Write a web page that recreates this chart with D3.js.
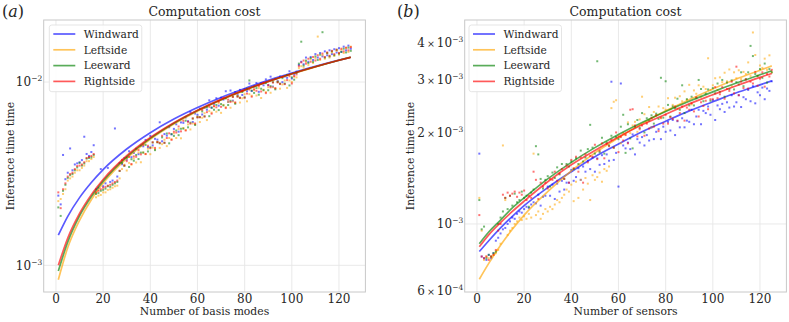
<!DOCTYPE html>
<html><head><meta charset="utf-8">
<script src="https://cdn.jsdelivr.net/npm/d3@7"></script>
<style>body{margin:0;background:#fff}svg{display:block;font-family:"DejaVu Serif",serif}</style>
</head><body><svg id="c" width="789" height="322"></svg>
<script>
// ---------------- DATA (times in milliseconds) ----------------
const seriesNames = ["Windward","Leftside","Leeward","Rightside"];
const seriesColors = ["#0000ff","#ffa500","#008000","#ff0000"];
const xTicks = [0,20,40,60,80,100,120];
const fitX = [1,5,10,15,20,30,40,50,60,70,80,90,100,110,120,125];

// Panel (a): number of basis modes
const aFitWindward  = [1.46,1.85,2.34,2.83,3.33,4.31,5.29,6.28,7.26,8.24,9.22,10.21,11.19,12.17,13.16,13.65];
const aFitLeftside  = [0.835,1.25,1.76,2.28,2.80,3.83,4.87,5.90,6.93,7.97,9.00,10.04,11.07,12.10,13.14,13.65];
const aFitLeeward   = [0.93,1.34,1.86,2.37,2.88,3.91,4.93,5.96,6.99,8.01,9.04,10.06,11.09,12.12,13.14,13.66];
const aFitRightside = [1.00,1.41,1.92,2.43,2.94,3.96,4.98,6.00,7.02,8.04,9.06,10.08,11.10,12.12,13.14,13.65];

const aPtsWindward = [2.40,2.15,4.00,2.95,3.20,4.34,3.30,3.55,3.60,3.65,
 3.75,5.03,4.05,3.95,4.15,4.52,2.60,2.65,3.35,2.70,
 2.80,3.40,2.85,2.90,5.58,3.05,3.61,3.56,3.84,3.77,
 4.19,3.89,4.10,4.32,4.04,4.49,4.46,4.83,4.41,5.08,
 4.51,4.90,4.85,6.03,4.75,5.20,5.10,5.67,5.18,5.55,
 5.88,5.36,6.02,5.99,6.41,6.11,6.85,6.05,6.73,6.62,
 7.16,6.65,7.22,7.06,7.95,7.25,7.60,8.16,7.43,8.21,
 8.02,8.91,7.79,8.99,7.91,8.82,8.53,9.06,8.50,9.14,
 8.92,9.81,8.93,9.45,9.88,8.84,9.84,9.60,10.34,9.60,
 10.7,9.44,10.4,10.14,10.71,9.98,10.71,10.54,11.45,10.46,
 11.0,11.4,12.4,12.9,12.5,13.6,12.9,13.7,13.2,14.2,
 13.6,14.4,13.8,14.7,14.0,14.9,14.2,15.1,14.5,15.3,
 14.6,15.6,14.9,15.8,15.2];
const aPtsLeftside = [2.24,2.30,2.45,2.60,2.90,2.98,3.05,3.20,3.30,3.30,
 3.40,3.50,3.70,3.70,3.80,3.90,2.35,2.40,2.42,2.50,
 2.50,2.58,2.60,2.65,2.70,2.72,2.98,3.35,3.54,3.29,
 3.62,3.54,3.83,3.64,4.12,3.65,4.13,4.04,4.33,4.04,
 4.39,4.29,4.72,4.37,4.58,4.84,4.47,4.95,4.87,5.25,
 4.95,5.54,4.93,5.61,5.47,5.87,5.51,5.94,5.88,6.47,
 6.05,6.38,6.76,6.20,6.94,6.81,7.35,6.89,7.68,6.79,
 7.50,7.30,7.78,7.24,7.83,7.69,8.40,7.73,8.15,8.58,
 7.85,8.59,8.42,9.03,8.44,9.26,8.18,9.08,8.82,9.37,
 8.74,9.37,9.21,10.07,9.20,9.70,10.19,9.29,10.2,10.0,
 10.71,10.6,11.9,12.2,12.0,12.9,12.4,13.3,12.7,13.5,
 17.7,13.2,14.0,13.4,14.3,13.6,14.5,13.9,14.8,14.1,
 15.0,14.4,15.3,14.6,15.6];
const aPtsLeeward = [2.07,1.86,2.55,2.75,3.00,3.10,3.15,3.30,3.42,3.62,
 3.50,3.60,3.82,3.85,3.88,4.00,2.45,2.48,2.55,2.58,
 2.62,2.70,2.68,2.75,2.80,2.85,3.27,3.62,3.49,3.87,
 3.44,3.79,3.72,4.00,3.80,4.12,4.12,4.54,4.18,4.40,
 4.68,4.25,4.69,4.63,4.99,4.66,5.24,4.63,5.20,5.08,
 5.44,5.13,5.56,5.57,6.15,5.66,6.00,6.32,5.83,6.43,
 6.44,6.91,6.50,7.28,6.51,7.24,7.06,7.50,7.03,7.58,
 7.45,8.14,7.49,7.90,8.32,7.61,8.34,8.22,8.82,8.25,
 9.20,10.2,8.98,8.72,9.27,8.53,9.19,9.02,9.86,9.02,
 9.50,9.98,9.12,10.0,9.80,10.5,9.80,10.9,9.58,10.6,
 10.3,11.2,12.6,16.6,12.3,13.1,12.7,13.5,12.9,13.8,
 13.2,14.1,18.7,13.6,14.4,13.8,14.7,14.0,15.0,14.3,
 14.6,15.2,14.5,15.4,14.8];
const aPtsRightside = [2.50,2.05,2.60,2.80,3.05,3.15,3.20,3.35,3.48,3.50,
 3.55,3.65,3.85,3.90,3.95,4.05,2.50,2.55,2.60,2.65,
 2.68,2.72,2.75,2.80,2.85,2.90,3.28,3.76,3.50,3.70,
 3.90,3.57,3.93,3.91,4.25,4.03,4.55,4.05,4.49,4.36,
 4.69,4.37,4.70,4.66,5.09,4.66,4.95,5.25,4.84,5.36,
 5.30,5.72,5.38,6.15,5.44,6.07,5.93,6.33,5.94,6.41,
 6.42,7.05,6.48,6.85,7.33,6.72,7.40,7.28,7.82,7.32,
 8.19,7.21,8.01,7.79,8.29,7.74,8.33,8.18,8.96,8.21,
 8.65,9.10,8.32,9.13,8.96,9.50,8.88,9.90,8.70,9.64,
 9.36,9.94,9.26,9.95,9.75,10.65,9.74,10.25,10.76,9.82,
 10.76,11.0,12.2,12.8,13.1,12.6,13.4,12.9,13.7,13.1,
 14.0,13.4,14.3,13.7,14.5,13.9,14.8,14.2,15.0,14.4,
 15.2,14.7,15.4,14.9,15.5];

// Panel (b): number of sensors
const bFitWindward  = [0.81,0.88,0.97,1.06,1.15,1.32,1.49,1.67,1.84,2.02,2.19,2.37,2.54,2.72,2.89,2.98];
const bFitLeftside  = [0.656,0.74,0.85,0.96,1.07,1.28,1.50,1.72,1.93,2.15,2.37,2.58,2.80,3.02,3.23,3.34];
const bFitLeeward   = [0.86,0.94,1.03,1.13,1.22,1.41,1.60,1.79,1.98,2.17,2.36,2.55,2.74,2.93,3.12,3.22];
const bFitRightside = [0.84,0.92,1.01,1.10,1.19,1.38,1.57,1.75,1.94,2.13,2.31,2.50,2.68,2.87,3.06,3.15];

const bPtsWindward = [1.71,0.78,0.77,0.76,0.79,0.77,0.80,0.88,0.90,0.93,
 0.96,0.97,1.00,1.02,1.05,1.04,1.08,1.10,1.09,1.12,
 1.14,1.13,1.16,1.18,1.17,1.25,1.15,1.23,1.24,1.33,
 1.24,1.35,1.21,1.36,1.28,1.39,1.30,1.37,1.37,1.51,
 1.39,1.43,1.53,1.40,1.55,1.49,1.62,1.52,1.66,1.49,
 1.65,1.57,1.69,1.58,1.70,1.62,2.96,1.63,1.72,1.33,
 2.92,1.82,1.78,1.86,1.77,1.98,1.70,1.91,1.86,1.94,
 1.82,1.97,1.89,2.09,1.91,2.02,2.06,1.91,2.10,2.02,
 2.18,2.04,2.21,1.97,2.19,2.09,2.24,2.09,2.20,2.18,
 2.39,2.14,2.27,2.39,2.14,2.37,2.33,2.45,2.30,2.57,
 2.21,2.47,2.40,2.50,2.35,2.53,2.43,2.67,2.45,2.53,
 2.67,2.44,2.63,2.59,2.78,2.55,2.86,2.51,2.73,2.67,
 2.83,2.59,2.81,2.76,2.97];
const bPtsLeftside = [1.22,0.95,0.76,0.78,0.77,0.78,0.79,0.80,0.82,0.86,
 1.82,1.20,0.92,0.95,0.97,1.00,1.02,1.05,1.03,1.06,
 1.04,1.08,1.05,1.71,1.07,1.10,1.04,1.08,1.12,1.10,
 1.14,1.12,1.16,1.20,1.18,1.22,1.25,1.30,1.28,1.35,
 1.19,1.38,1.22,1.40,1.30,1.42,1.36,1.20,1.45,1.40,
 1.43,1.48,1.38,1.52,1.50,1.55,2.42,2.54,2.57,1.96,
 1.85,2.00,1.98,2.17,2.00,2.12,2.18,2.02,2.22,2.64,
 2.31,2.17,2.44,2.09,2.35,2.29,2.45,2.24,2.42,2.39,
 2.61,2.40,2.48,2.62,2.41,2.65,2.55,2.75,2.58,2.89,
 2.49,2.77,2.70,2.88,2.64,2.85,2.80,3.54,2.78,2.88,
 3.04,2.78,3.06,2.95,3.17,2.97,3.25,2.86,3.18,3.04,
 3.23,3.02,3.19,3.14,3.43,3.09,4.31,3.63,3.10,3.35,
 3.29,3.53,3.24,3.62,3.18];
const bPtsLeeward = [1.20,0.96,0.98,0.77,0.79,0.78,0.80,0.81,1.00,1.05,
 1.10,1.22,1.12,1.24,1.15,1.26,1.18,1.20,1.28,1.22,
 1.24,1.14,1.27,1.30,1.81,1.70,1.41,1.31,1.40,1.44,
 1.33,1.48,1.42,1.54,1.46,1.58,1.41,1.58,1.55,1.61,
 1.52,1.65,1.58,1.75,1.61,1.66,1.77,2.13,1.79,1.71,
 3.46,1.73,1.93,1.71,1.86,1.82,1.96,1.79,1.94,1.91,
 2.10,2.30,1.72,2.14,1.92,1.78,2.10,2.21,2.08,2.33,
 2.01,2.24,2.20,2.29,2.15,2.32,2.23,3.05,2.25,2.97,
 2.48,2.27,2.45,2.42,2.60,2.39,2.88,2.33,2.59,2.47,
 2.64,2.47,2.61,3.00,2.80,2.55,2.70,2.79,2.56,2.82,
 2.71,2.92,2.74,3.00,2.64,2.94,2.80,2.99,2.79,2.95,
 2.90,3.18,2.86,3.02,3.18,3.89,3.60,3.14,3.09,3.26,
 3.05,3.40,2.94,3.26,3.18];
const bPtsRightside = [1.07,0.78,0.77,0.78,0.76,0.78,0.79,0.82,0.95,1.00,
 1.25,1.22,1.27,1.24,1.26,1.28,1.23,1.27,1.25,1.29,
 1.20,1.24,1.22,1.49,1.40,1.21,1.37,1.33,1.37,1.31,
 1.41,1.40,1.49,1.39,1.47,1.52,1.41,1.56,1.37,1.63,
 1.53,1.67,1.49,1.66,1.37,1.70,1.60,1.68,1.67,1.83,
 1.64,1.75,1.85,1.65,1.84,1.81,1.90,1.79,2.01,1.73,
 1.94,1.89,1.97,1.85,2.39,2.40,2.12,1.95,2.06,2.12,
 1.96,2.15,2.07,2.24,2.10,2.29,2.03,2.25,2.15,2.30,
 2.15,2.26,2.23,2.45,2.20,2.33,2.45,2.20,2.43,2.39,
 2.51,2.36,2.63,2.27,2.53,2.46,2.56,2.40,2.59,2.59,
 2.84,2.61,2.69,2.84,2.60,2.80,2.76,2.96,2.71,3.32,
 2.67,2.96,2.82,3.01,2.81,2.96,2.92,3.19,2.87,3.03,
 3.18,2.85,3.14,3.08,3.24];

// y tick values (ms) and labels [mantissa, base, exponent]
const aYTicks = [1, 10];
const aYTickLabels = [["","10","−3"],["","10","−2"]];
const bYTicks = [0.6, 1, 2, 3, 4];
const bYTickLabels = [["6","10","−4"],["","10","−3"],["2","10","−3"],["3","10","−3"],["4","10","−3"]];

// ---------------- DRAW ----------------
const svg = d3.select("#c");
const ink = "#262626";

function tickText(g, x, y, parts){
  const t = g.append("text").attr("x",x).attr("y",y).attr("text-anchor","end")
    .attr("font-size",12).attr("fill",ink);
  if(parts[0]){
    t.append("tspan").text(parts[0]);
    t.append("tspan").attr("dx",2).attr("font-size",9.5).text("×");
    t.append("tspan").attr("dx",2).text(parts[1]);
  } else {
    t.append("tspan").text(parts[1]);
  }
  t.append("tspan").attr("dy",-5).attr("font-size",7.5).text(parts[2]);
}

function panel(cfg){
  const g = svg.append("g");
  const x = d3.scaleLinear().domain([-5.2,131.2]).range([cfg.x0,cfg.x1]);
  const y = d3.scaleLog().domain(cfg.yDomain).range([cfg.y1,cfg.y0]);

  g.selectAll(".vg").data(xTicks).enter().append("line")
    .attr("x1",d=>x(d)).attr("x2",d=>x(d)).attr("y1",cfg.y0).attr("y2",cfg.y1)
    .attr("stroke","#e6e6e6").attr("stroke-width",0.9);
  g.selectAll(".hg").data(cfg.yGrid).enter().append("line")
    .attr("x1",cfg.x0).attr("x2",cfg.x1).attr("y1",d=>y(d)).attr("y2",d=>y(d))
    .attr("stroke","#e6e6e6").attr("stroke-width",0.9);

  const xs = d3.range(1,126);
  const line = d3.line().x((d,i)=>x(fitX[i])).y(d=>y(d)).curve(d3.curveMonotoneX);
  cfg.pts.forEach((arr,k)=>{
    g.append("g").selectAll("rect").data(arr).enter().append("rect")
      .attr("x",(d,i)=>x(xs[i])-1).attr("y",d=>y(d)-1).attr("width",2).attr("height",2)
      .attr("fill",seriesColors[k]).attr("fill-opacity",0.55);
    g.append("path").datum(cfg.fits[k]).attr("d",line).attr("fill","none")
      .attr("stroke",seriesColors[k]).attr("stroke-opacity",0.65).attr("stroke-width",1.7);
  });

  g.append("rect").attr("x",cfg.x0).attr("y",cfg.y0).attr("width",cfg.x1-cfg.x0).attr("height",cfg.y1-cfg.y0)
    .attr("fill","none").attr("stroke","#c8c8c8").attr("stroke-width",1);

  g.selectAll(".xt").data(xTicks).enter().append("text")
    .attr("x",d=>x(d)).attr("y",cfg.y1+10.7).attr("text-anchor","middle")
    .attr("font-size",12).attr("fill",ink).text(d=>d);
  cfg.yTicks.forEach((v,i)=>tickText(g, cfg.x0-1.5, y(v)+4.3, cfg.yLabels[i]));

  g.append("text").attr("x",(cfg.x0+cfg.x1)/2).attr("y",315).attr("text-anchor","middle")
    .attr("font-size",10.8).attr("fill",ink).text(cfg.xLabel);
  g.append("text").attr("transform",`translate(${cfg.yLabX},${(cfg.y0+cfg.y1)/2}) rotate(-90)`)
    .attr("text-anchor","middle").attr("dominant-baseline","central")
    .attr("font-size",10.8).attr("fill",ink).text("Inference time time");
  g.append("text").attr("x",(cfg.x0+cfg.x1)/2).attr("y",15.5).attr("text-anchor","middle")
    .attr("font-size",12.5).attr("fill",ink).text("Computation cost");
  const pl = g.append("text").attr("x",cfg.plX).attr("y",17).attr("font-size",16).attr("fill",ink);
  pl.append("tspan").text("(");
  pl.append("tspan").attr("font-style","italic").text(cfg.letter);
  pl.append("tspan").text(")");

  const lg = g.append("g");
  lg.append("rect").attr("x",cfg.lgX).attr("y",25).attr("width",92.5).attr("height",66.7).attr("rx",2.5)
    .attr("fill","#fff").attr("fill-opacity",0.85).attr("stroke","#e2e2e2").attr("stroke-width",0.9);
  seriesNames.forEach((n,k)=>{
    const yy = 34 + k*15.8;
    lg.append("line").attr("x1",cfg.lgX+4).attr("x2",cfg.lgX+26).attr("y1",yy).attr("y2",yy)
      .attr("stroke",seriesColors[k]).attr("stroke-opacity",0.65).attr("stroke-width",1.7);
    lg.append("text").attr("x",cfg.lgX+34.5).attr("y",yy+3.8).attr("font-size",10.6)
      .attr("fill",ink).text(n);
  });
}

panel({x0:43.7,x1:365.4,y0:20,y1:292,yDomain:[0.715,21.8],yGrid:aYTicks,yTicks:aYTicks,yLabels:aYTickLabels,
  pts:[aPtsWindward,aPtsLeftside,aPtsLeeward,aPtsRightside],
  fits:[aFitWindward,aFitLeftside,aFitLeeward,aFitRightside],
  xLabel:"Number of basis modes",yLabX:10.5,plX:2,letter:"a",lgX:49.3});
panel({x0:464.7,x1:786.4,y0:20,y1:292,yDomain:[0.595,4.74],yGrid:[1],yTicks:bYTicks,yLabels:bYTickLabels,
  pts:[bPtsWindward,bPtsLeftside,bPtsLeeward,bPtsRightside],
  fits:[bFitWindward,bFitLeftside,bFitLeeward,bFitRightside],
  xLabel:"Number of sensors",yLabX:410,plX:397,letter:"b",lgX:469});
</script></body></html>
